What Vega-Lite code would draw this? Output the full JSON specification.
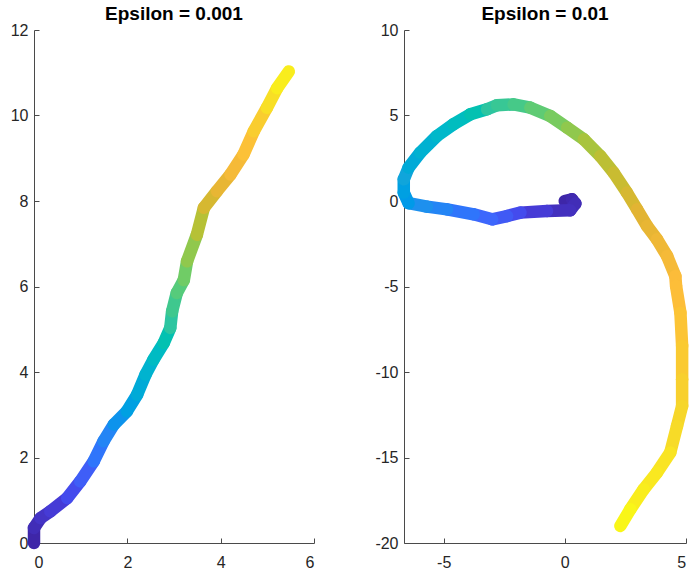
{
  "$schema": "https://vega.github.io/schema/vega-lite/v6.json",
  "background": "white",
  "padding": {"left": 10, "top": 5, "right": 0, "bottom": 0},
  "bounds": "flush",
  "spacing": 90,
  "config": {
    "view": {"stroke": null},
    "axis": {
      "grid": false,
      "domainColor": "#4a4a4a",
      "tickColor": "#4a4a4a",
      "labelColor": "#262626",
      "labelFont": "Liberation Sans",
      "labelFontSize": 16,
      "tickSize": -5,
      "labelExpr": "toString(datum.value)",
      "title": null
    },
    "axisX": {"labelPadding": 16},
    "axisY": {"labelPadding": 11},
    "title": {"font": "Liberation Sans", "fontSize": 19, "fontWeight": "bold", "color": "#000000", "baseline": "alphabetic", "offset": -2}
  },
  "datasets": {
    "eps001": [
      {"x": 0.0, "y": 0.0, "t": 0.0},
      {"x": 0.0, "y": 0.35, "t": 0.02},
      {"x": 0.14, "y": 0.58, "t": 0.04},
      {"x": 0.35, "y": 0.74, "t": 0.06},
      {"x": 0.71, "y": 1.05, "t": 0.10},
      {"x": 0.99, "y": 1.44, "t": 0.14},
      {"x": 1.28, "y": 1.91, "t": 0.19},
      {"x": 1.49, "y": 2.38, "t": 0.23},
      {"x": 1.71, "y": 2.77, "t": 0.27},
      {"x": 1.99, "y": 3.08, "t": 0.31},
      {"x": 2.21, "y": 3.47, "t": 0.35},
      {"x": 2.39, "y": 3.94, "t": 0.39},
      {"x": 2.56, "y": 4.29, "t": 0.43},
      {"x": 2.78, "y": 4.68, "t": 0.47},
      {"x": 2.92, "y": 5.03, "t": 0.50},
      {"x": 2.96, "y": 5.42, "t": 0.53},
      {"x": 3.06, "y": 5.85, "t": 0.56},
      {"x": 3.21, "y": 6.15, "t": 0.59},
      {"x": 3.28, "y": 6.59, "t": 0.63},
      {"x": 3.49, "y": 7.21, "t": 0.68},
      {"x": 3.64, "y": 7.84, "t": 0.73},
      {"x": 3.92, "y": 8.23, "t": 0.77},
      {"x": 4.21, "y": 8.62, "t": 0.81},
      {"x": 4.49, "y": 9.09, "t": 0.85},
      {"x": 4.71, "y": 9.63, "t": 0.89},
      {"x": 4.99, "y": 10.18, "t": 0.94},
      {"x": 5.21, "y": 10.64, "t": 0.97},
      {"x": 5.46, "y": 11.03, "t": 1.0}
    ],
    "eps01": [
      {"x": 0.0, "y": 0.0, "t": 0.0},
      {"x": 0.3, "y": 0.1, "t": 0.01},
      {"x": 0.44, "y": -0.15, "t": 0.02},
      {"x": 0.23, "y": -0.54, "t": 0.03},
      {"x": -0.73, "y": -0.58, "t": 0.06},
      {"x": -1.83, "y": -0.68, "t": 0.10},
      {"x": -2.38, "y": -0.88, "t": 0.13},
      {"x": -3.0, "y": -1.07, "t": 0.16},
      {"x": -3.76, "y": -0.78, "t": 0.19},
      {"x": -4.86, "y": -0.49, "t": 0.23},
      {"x": -5.69, "y": -0.33, "t": 0.26},
      {"x": -6.45, "y": -0.13, "t": 0.29},
      {"x": -6.65, "y": 0.49, "t": 0.31},
      {"x": -6.65, "y": 1.27, "t": 0.33},
      {"x": -6.45, "y": 1.95, "t": 0.35},
      {"x": -5.97, "y": 2.83, "t": 0.38},
      {"x": -5.28, "y": 3.80, "t": 0.41},
      {"x": -4.59, "y": 4.49, "t": 0.44},
      {"x": -3.90, "y": 5.07, "t": 0.47},
      {"x": -3.21, "y": 5.36, "t": 0.50},
      {"x": -2.80, "y": 5.60, "t": 0.52},
      {"x": -2.11, "y": 5.65, "t": 0.54},
      {"x": -1.42, "y": 5.46, "t": 0.57},
      {"x": -0.60, "y": 4.97, "t": 0.60},
      {"x": 0.10, "y": 4.29, "t": 0.63},
      {"x": 0.79, "y": 3.61, "t": 0.66},
      {"x": 1.47, "y": 2.63, "t": 0.69},
      {"x": 2.02, "y": 1.66, "t": 0.71},
      {"x": 2.57, "y": 0.49, "t": 0.73},
      {"x": 2.99, "y": -0.49, "t": 0.75},
      {"x": 3.40, "y": -1.46, "t": 0.77},
      {"x": 3.81, "y": -2.24, "t": 0.79},
      {"x": 4.23, "y": -3.22, "t": 0.81},
      {"x": 4.57, "y": -4.39, "t": 0.83},
      {"x": 4.60, "y": -4.97, "t": 0.84},
      {"x": 4.78, "y": -6.53, "t": 0.86},
      {"x": 4.85, "y": -8.48, "t": 0.88},
      {"x": 4.85, "y": -10.43, "t": 0.90},
      {"x": 4.85, "y": -11.99, "t": 0.92},
      {"x": 4.64, "y": -13.16, "t": 0.93},
      {"x": 4.36, "y": -14.71, "t": 0.95},
      {"x": 3.81, "y": -15.88, "t": 0.96},
      {"x": 3.26, "y": -16.86, "t": 0.97},
      {"x": 2.71, "y": -18.03, "t": 0.99},
      {"x": 2.30, "y": -19.0, "t": 1.0}
    ]
  },
  "hconcat": [
    {
      "title": "Epsilon = 0.001",
      "width": 280,
      "height": 513,
      "data": {"name": "eps001"},
      "transform": [
        {"window": [{"op": "lead", "field": "x", "as": "x2"}, {"op": "lead", "field": "y", "as": "y2"}], "sort": [{"field": "t", "order": "ascending"}]},
        {"filter": "datum.x2 != null"}
      ],
      "mark": {"type": "rule", "strokeWidth": 12.5, "strokeCap": "round"},
      "encoding": {
        "x": {"field": "x", "type": "quantitative", "scale": {"domain": [0, 6], "nice": false, "zero": false}, "axis": {"values": [0, 2, 4, 6]}},
        "y": {"field": "y", "type": "quantitative", "scale": {"domain": [0, 12], "nice": false, "zero": false}, "axis": {"values": [0, 2, 4, 6, 8, 10, 12]}},
        "x2": {"field": "x2"},
        "y2": {"field": "y2"},
        "color": {"field": "t", "type": "quantitative", "legend": null, "scale": {"domain": [0, 1], "range": ["#3E26A8", "#4743E8", "#3D6AFD", "#2A8CF0", "#15A6DA", "#06B9C8", "#2DC5A0", "#6ACC6A", "#ADC33A", "#E2B433", "#FDBC3A", "#F6D52B", "#F9FB15"]}}
      }
    },
    {
      "title": "Epsilon = 0.01",
      "width": 282,
      "height": 513,
      "data": {"name": "eps01"},
      "transform": [
        {"window": [{"op": "lead", "field": "x", "as": "x2"}, {"op": "lead", "field": "y", "as": "y2"}], "sort": [{"field": "t", "order": "ascending"}]},
        {"filter": "datum.x2 != null"}
      ],
      "mark": {"type": "rule", "strokeWidth": 12.5, "strokeCap": "round"},
      "encoding": {
        "x": {"field": "x", "type": "quantitative", "scale": {"domain": [-6.64, 5.01], "nice": false, "zero": false}, "axis": {"values": [-5, 0, 5]}},
        "y": {"field": "y", "type": "quantitative", "scale": {"domain": [-20, 10], "nice": false, "zero": false}, "axis": {"values": [-20, -15, -10, -5, 0, 5, 10]}},
        "x2": {"field": "x2"},
        "y2": {"field": "y2"},
        "color": {"field": "t", "type": "quantitative", "legend": null, "scale": {"domain": [0, 1], "range": ["#3E26A8", "#4743E8", "#3D6AFD", "#2A8CF0", "#15A6DA", "#06B9C8", "#2DC5A0", "#6ACC6A", "#ADC33A", "#E2B433", "#FDBC3A", "#F6D52B", "#F9FB15"]}}
      }
    }
  ]
}
